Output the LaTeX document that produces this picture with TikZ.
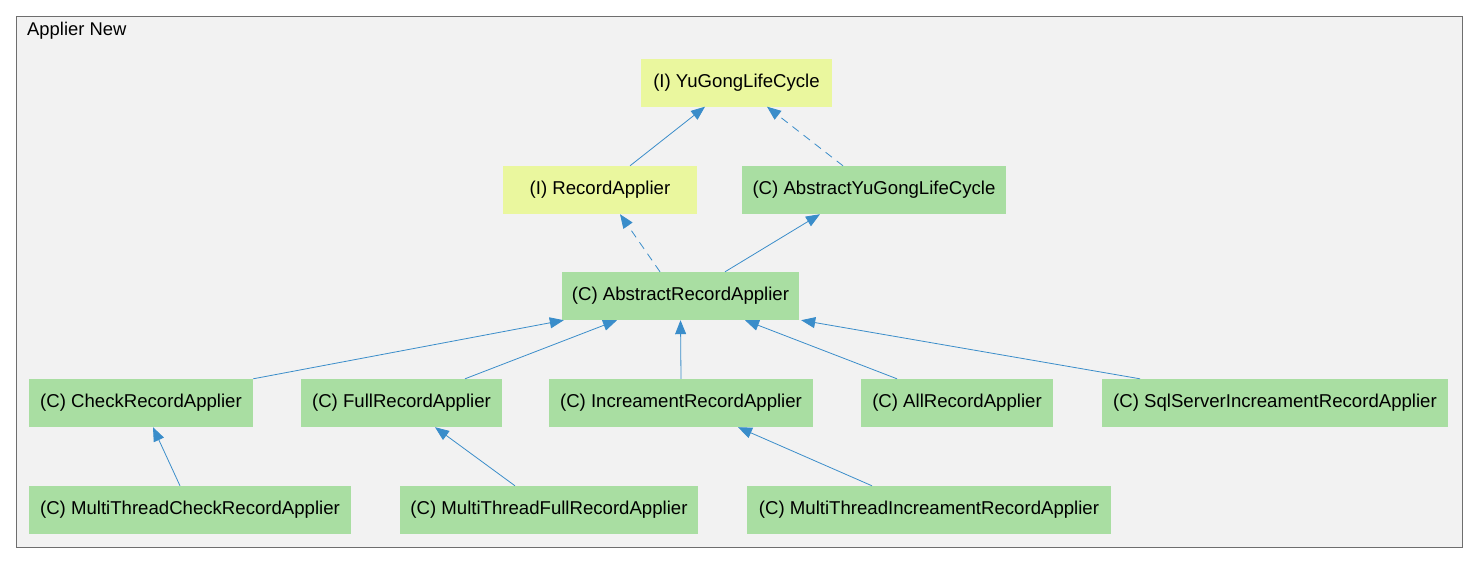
\documentclass[tikz,border=0pt]{standalone}
\usepackage{fontspec}
\setmainfont{Liberation Sans}
\usetikzlibrary{arrows.meta}
\definecolor{frameFill}{RGB}{242,242,242}
\definecolor{frameLine}{RGB}{110,110,110}
\definecolor{ifaceFill}{RGB}{234,247,158}
\definecolor{classFill}{RGB}{169,222,162}
\definecolor{edgeBlue}{RGB}{58,141,202}
\tikzset{
  box/.style={inner sep=0pt, minimum height=48pt, font=\fontsize{18.6}{22}\selectfont, text=black},
  iface/.style={box, fill=ifaceFill},
  cls/.style={box, fill=classFill},
  arr/.style={draw=edgeBlue, line width=0.8pt, -{Triangle[length=14pt,width=11pt,fill=edgeBlue]}},
  darr/.style={arr, dash pattern=on 8pt off 6pt}
}
\begin{document}
\begin{tikzpicture}[x=1pt,y=-1pt]
\useasboundingbox (0,0) rectangle (1477,563);
\draw[frameLine, fill=frameFill, line width=1pt] (16,16) rectangle (1462,547);
\node[anchor=west, font=\fontsize{18.4}{22}\selectfont, inner sep=0pt] (title) at (27,31) {Applier New};

\node[iface, minimum width=191pt] (yg) at (736.5,82.5) {(I) YuGongLifeCycle};
\node[iface, minimum width=194pt] (ra) at (600,190) {(I) RecordApplier};
\node[cls, minimum width=264pt] (ayg) at (874,190) {(C) AbstractYuGongLifeCycle};
\node[cls, minimum width=237pt] (ara) at (680.5,296) {(C) AbstractRecordApplier};
\node[cls, minimum width=224pt] (chk) at (141,403) {(C) CheckRecordApplier};
\node[cls, minimum width=201pt] (full) at (401.5,403) {(C) FullRecordApplier};
\node[cls, minimum width=264pt] (inc) at (681,403) {(C) IncreamentRecordApplier};
\node[cls, minimum width=192pt] (all) at (957,403) {(C) AllRecordApplier};
\node[cls, minimum width=346pt] (sql) at (1275,403) {(C) SqlServerIncreamentRecordApplier};
\node[cls, minimum width=322pt] (mchk) at (190,510) {(C) MultiThreadCheckRecordApplier};
\node[cls, minimum width=298pt] (mfull) at (549,510) {(C) MultiThreadFullRecordApplier};
\node[cls, minimum width=364pt] (minc) at (929,510) {(C) MultiThreadIncreamentRecordApplier};

\draw[arr] ([xshift=30pt]ra.north) -- ([xshift=-31.5pt]yg.south);
\draw[darr] ([xshift=-31pt]ayg.north) -- ([xshift=30.5pt]yg.south);
\draw[darr] ([xshift=-20.5pt]ara.north) -- ([xshift=20pt]ra.south);
\draw[arr] ([xshift=44.5pt]ara.north) -- ([xshift=-54pt]ayg.south);
\draw[arr] (chk.north east) -- ([xshift=2pt]ara.south west);
\draw[arr] ([xshift=63.5pt]full.north) -- ([xshift=-63.5pt]ara.south);
\draw[arr] (inc.north) -- (ara.south);
\draw[arr] ([xshift=-60pt]all.north) -- ([xshift=64.5pt]ara.south);
\draw[arr] ([xshift=-135pt]sql.north) -- ([xshift=2pt]ara.south east);
\draw[arr] ([xshift=-10pt]mchk.north) -- ([xshift=12pt]chk.south);
\draw[arr] ([xshift=-34pt]mfull.north) -- ([xshift=33.5pt]full.south);
\draw[arr] ([xshift=-57pt]minc.north) -- ([xshift=57pt]inc.south);
\end{tikzpicture}
\end{document}
